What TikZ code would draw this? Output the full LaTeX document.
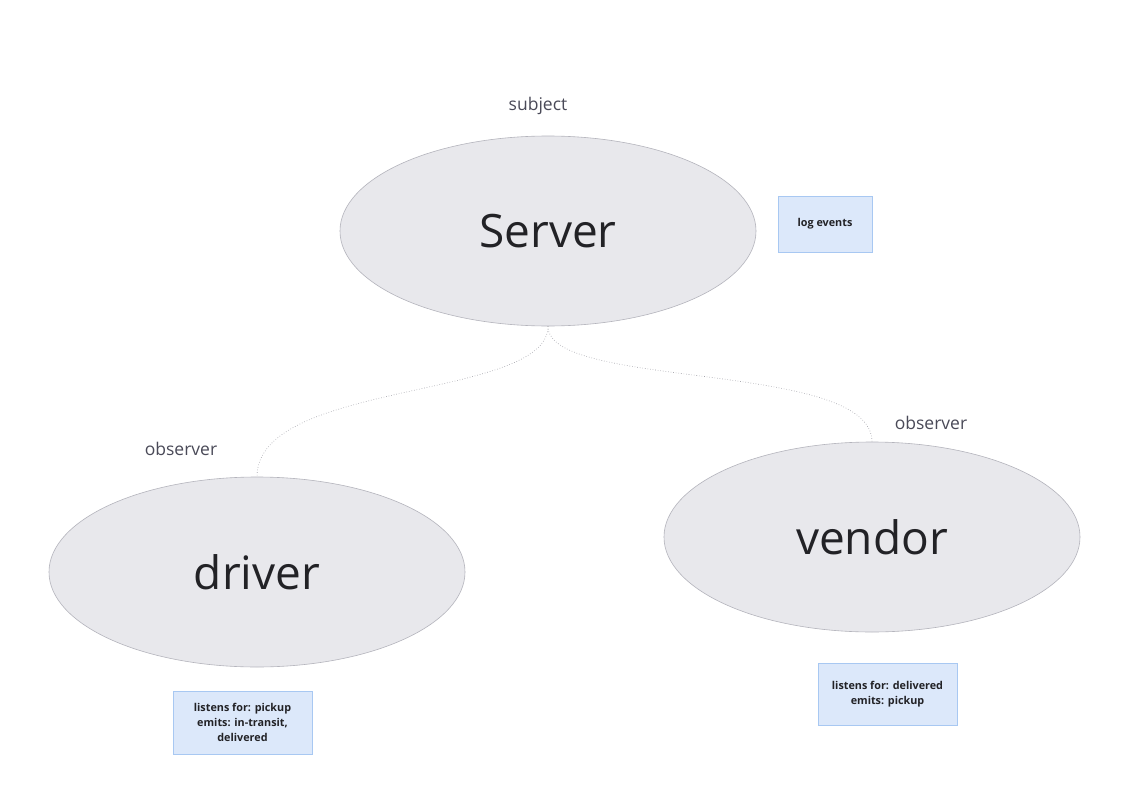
\documentclass[tikz,border=0pt]{standalone}
\usepackage{fontspec}
\setmainfont{Open Sans}
\usetikzlibrary{shapes.geometric}
\definecolor{ellfill}{HTML}{E8E8EC}
\definecolor{elldraw}{HTML}{B4B4BC}
\definecolor{notefill}{HTML}{DCE8FA}
\definecolor{notedraw}{HTML}{A8C8F2}
\definecolor{txt}{HTML}{222226}
\definecolor{lbl}{HTML}{4A4A58}
\definecolor{conn}{HTML}{9A9AA2}
\tikzset{
  actor/.style={ellipse, fill=ellfill, draw=elldraw, line width=0.6pt,
    minimum width=416pt, minimum height=190pt, inner sep=0pt,
    font=\fontsize{46}{50}\selectfont, text=txt},
  note/.style={rectangle, fill=notefill, draw=notedraw, line width=0.6pt,
    inner sep=0pt, align=center, text=txt,
    font=\fontsize{10.8}{15}\selectfont\bfseries},
  role/.style={font=\fontsize{17.5}{20}\selectfont, text=lbl},
  link/.style={draw=conn, line width=0.6pt, dotted}
}
\begin{document}
\begin{tikzpicture}[x=1pt,y=-1pt]
\useasboundingbox[fill=white] (0,0) rectangle (1141,800);
% actors
\node[actor] (server) at (548,231) {Server};
\node[actor] (driver) at (257,572) {driver};
\node[actor] (vendor) at (872,537) {vendor};
% role labels
\node[role] (subj) at (538,106) {subject};
\node[role] (obsd) at (181,449) {observer};
\node[role] (obsv) at (931,423) {observer};
% notes
\node[note, minimum width=94pt, minimum height=56pt] (log) at (825,224) {log events};
\node[note, minimum width=139pt, minimum height=63pt] (dnote) at (242.5,722.5) {listens for: pickup\\emits: in-transit,\\delivered};
\node[note, minimum width=139pt, minimum height=62pt] (vnote) at (887.5,694) {listens for: delivered\\emits: pickup};
% connectors
\draw[link] (server.south) .. controls (548,400) and (257,380) .. (driver.north);
\draw[link] (server.south) .. controls (548,390) and (872,360) .. (vendor.north);
\end{tikzpicture}
\end{document}
